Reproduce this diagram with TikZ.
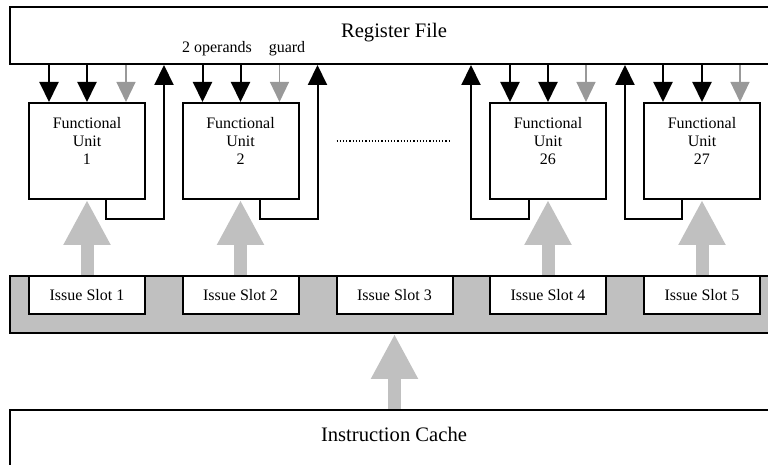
\documentclass[tikz,border=0pt]{standalone}
\usepackage{fontspec}
\setmainfont{Liberation Serif}
\usetikzlibrary{arrows.meta, positioning, calc}
\definecolor{slotgray}{HTML}{C0C0C0}
\definecolor{guardgray}{HTML}{999999}

\begin{document}
\begin{tikzpicture}[
  x=0.5pt, y=0.5pt,
  wide/.style     = {draw, line width=1pt, minimum width=384pt, minimum height=28.5pt, inner sep=0pt},
  fu/.style       = {draw, line width=1pt, fill=white, minimum width=58pt, minimum height=48pt, inner sep=0pt},
  slot/.style     = {draw, line width=1pt, fill=white, minimum width=58pt, minimum height=19pt,
                     inner sep=0pt, font=\fontsize{8}{9.2}\selectfont},
  fulab/.style    = {align=center, inner sep=0pt, font=\fontsize{8}{9.15}\selectfont},
  bigtxt/.style   = {anchor=base, inner sep=0pt, font=\fontsize{10.3}{12}\selectfont},
  smtxt/.style    = {anchor=base, inner sep=0pt, font=\fontsize{8}{9.2}\selectfont},
  darr/.style     = {-{Triangle[length=10pt, width=9.5pt]}, line width=1pt},
  garr/.style     = {-{Triangle[length=10pt, width=9.5pt]}, line width=0.6pt, color=guardgray},
  issuearr/.style = {-{Triangle[length=22.5pt, width=22pt]}, line width=6.5pt, color=slotgray},
  dotline/.style  = {line width=0.6pt, dash pattern=on 0.6pt off 1pt},
]
\useasboundingbox (0,0) rectangle (768,465);
\clip (0,0) rectangle (768,465);

% ── Register file ────────────────────────────────────────────────────────────
\node[wide]  (rf)    at (394,429.5) {};
\node[bigtxt] (rflab) at (394,427.3) {Register File};
\node[smtxt] (ops)   at (217,412.3) {2 operands};
\node[smtxt] (grd)   at (287,412.3) {guard};

% ── Issue slots ──────────────────────────────────────────────────────────────
\node[wide, fill=slotgray] (bar) at (394,160.5) {};
\node[slot] (is1) at (87,170)    {Issue Slot 1};
\node[slot] (is2) at (240.5,170) {Issue Slot 2};
\node[slot] (is3) at (394.5,170) {Issue Slot 3};
\node[slot] (is4) at (548,170)   {Issue Slot 4};
\node[slot] (is5) at (702,170)   {Issue Slot 5};

% ── Instruction cache ────────────────────────────────────────────────────────
\node[wide, minimum height=50pt] (ic) at (394,5) {};
\node[bigtxt] (iclab) at (394,23) {Instruction Cache};
\draw[issuearr] (is3.south |- ic.north) -- (is3.south |- bar.south);

% ── Functional units ─────────────────────────────────────────────────────────
\node[fu] (fu1)  at (87,314)    {};
\node[fu] (fu2)  at (240.5,314) {};
\node[fu] (fu26) at (548,314)   {};
\node[fu] (fu27) at (702,314)   {};
\node[fulab] (fu1lab)  at ($(fu1)+(0,10)$)  {Functional\\Unit\\1};
\node[fulab] (fu2lab)  at ($(fu2)+(0,10)$)  {Functional\\Unit\\2};
\node[fulab] (fu26lab) at ($(fu26)+(0,10)$) {Functional\\Unit\\26};
\node[fulab] (fu27lab) at ($(fu27)+(0,10)$) {Functional\\Unit\\27};

\draw[dotline] ([shift={(37,10)}]fu2.east) -- ([shift={(-38,10)}]fu26.west);

% unit 1
\draw[darr] ([shift={(-38,0)}]fu1.north |- rf.south) -- ([shift={(-38,0)}]fu1.north);
\draw[darr] (fu1.north |- rf.south) -- (fu1.north);
\draw[garr] ([shift={(39,0)}]fu1.north |- rf.south) -- ([shift={(39,0)}]fu1.north);
\draw[darr] ([shift={(19,0)}]fu1.south) -- ++(0,-19) -| ([shift={(77,0)}]fu1.north |- rf.south);
\draw[issuearr] (is1.north) -- (fu1.south);

% unit 2
\draw[darr] ([shift={(-38,0)}]fu2.north |- rf.south) -- ([shift={(-38,0)}]fu2.north);
\draw[darr] (fu2.north |- rf.south) -- (fu2.north);
\draw[garr] ([shift={(39,0)}]fu2.north |- rf.south) -- ([shift={(39,0)}]fu2.north);
\draw[darr] ([shift={(19,0)}]fu2.south) -- ++(0,-19) -| ([shift={(77,0)}]fu2.north |- rf.south);
\draw[issuearr] (is2.north) -- (fu2.south);

% unit 26
\draw[darr] ([shift={(-38,0)}]fu26.north |- rf.south) -- ([shift={(-38,0)}]fu26.north);
\draw[darr] (fu26.north |- rf.south) -- (fu26.north);
\draw[garr] ([shift={(38,0)}]fu26.north |- rf.south) -- ([shift={(38,0)}]fu26.north);
\draw[darr] ([shift={(-19,0)}]fu26.south) -- ++(0,-19) -| ([shift={(-77,0)}]fu26.north |- rf.south);
\draw[issuearr] (is4.north) -- (fu26.south);

% unit 27
\draw[darr] ([shift={(-39,0)}]fu27.north |- rf.south) -- ([shift={(-39,0)}]fu27.north);
\draw[darr] (fu27.north |- rf.south) -- (fu27.north);
\draw[garr] ([shift={(38,0)}]fu27.north |- rf.south) -- ([shift={(38,0)}]fu27.north);
\draw[darr] ([shift={(-20,0)}]fu27.south) -- ++(0,-19) -| ([shift={(-77,0)}]fu27.north |- rf.south);
\draw[issuearr] (is5.north) -- (fu27.south);

\end{tikzpicture}
\end{document}
